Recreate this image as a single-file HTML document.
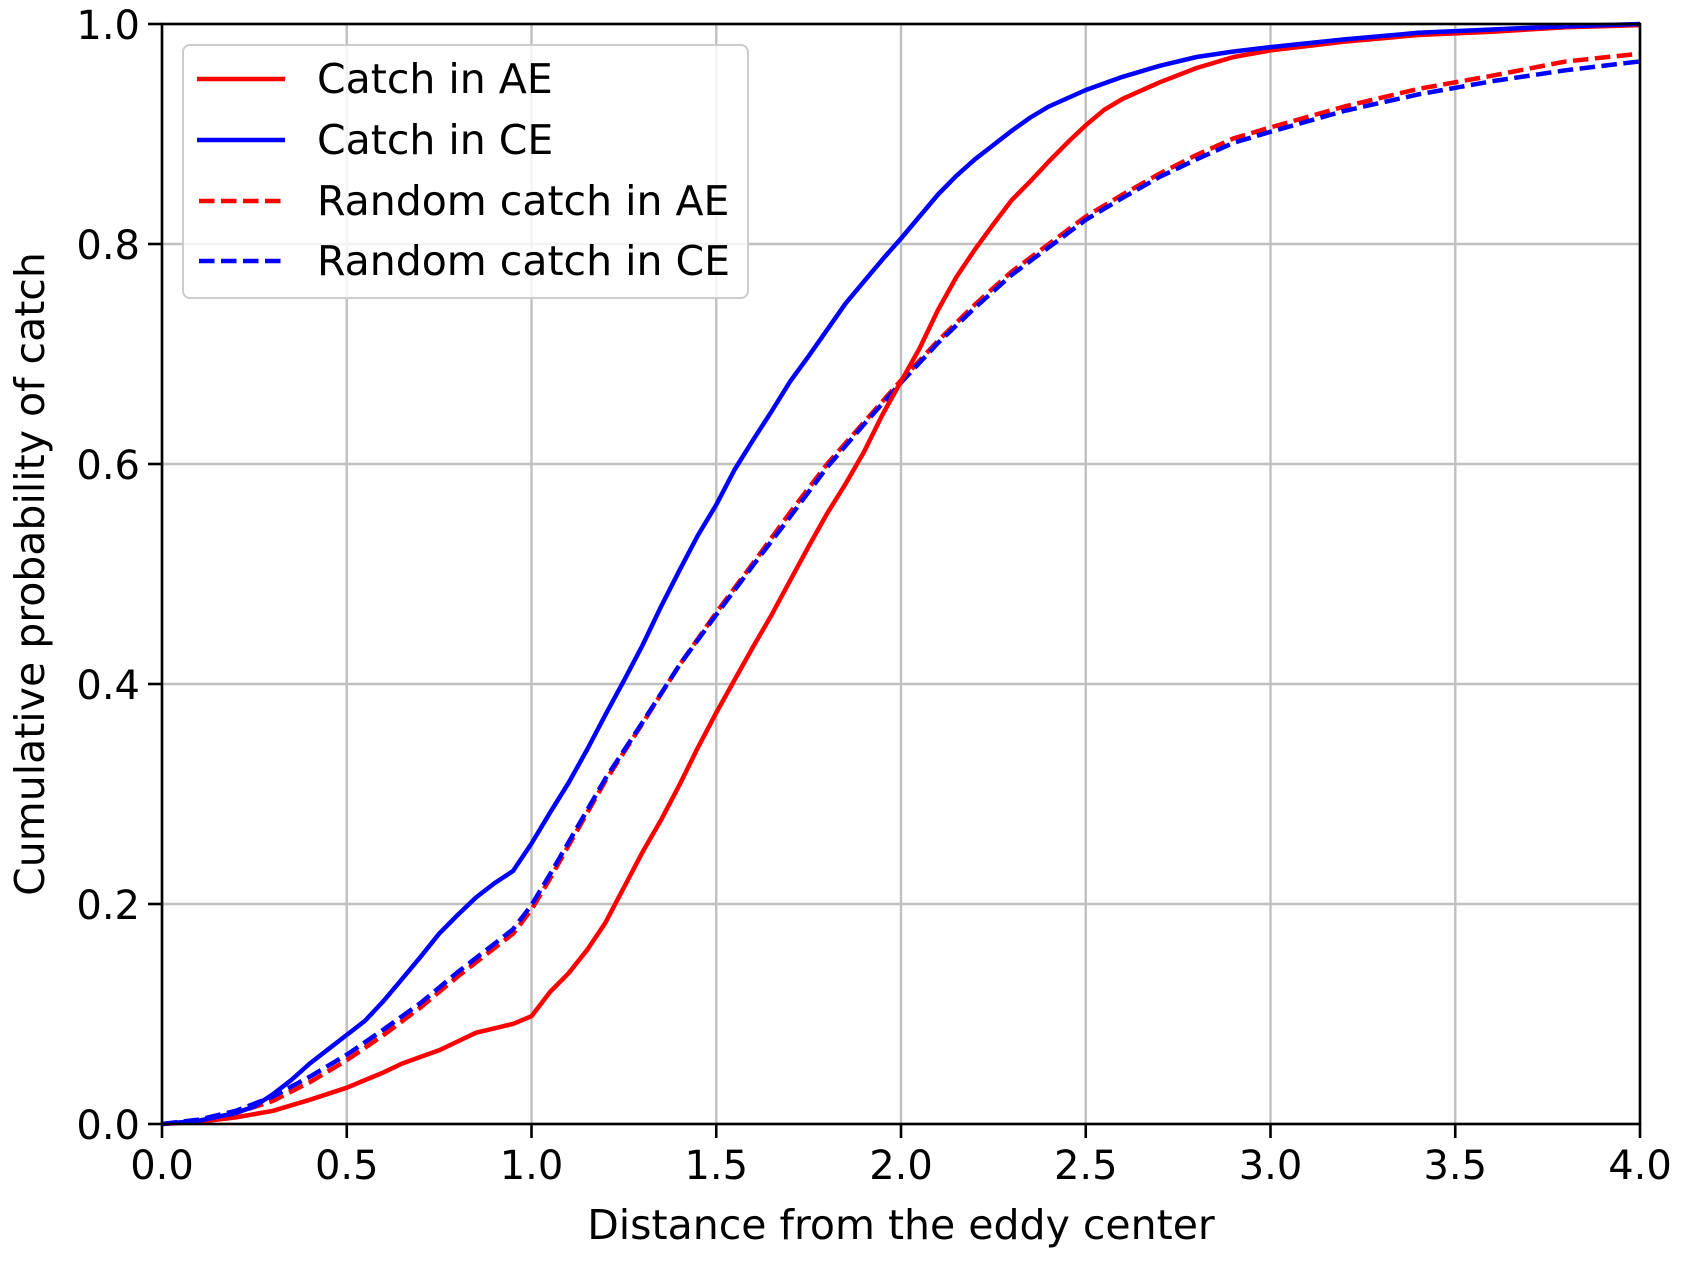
<!DOCTYPE html>
<html><head><meta charset="utf-8"><style>
html,body{margin:0;padding:0;background:#fff;}
svg{display:block;font-family:"DejaVu Sans","Liberation Sans",sans-serif;}
</style></head><body>
<svg id="chart" width="1683" height="1261" viewBox="0 0 1683 1261">
<g id="grid"></g>
<g id="series"></g>
<rect x="162" y="24" width="1478" height="1100" fill="none" stroke="#000" stroke-width="2.6"/>
<g id="ticks"></g>
<text x="901" y="1239" font-size="41" text-anchor="middle">Distance from the eddy center</text>
<text transform="translate(44,574) rotate(-90)" font-size="41" text-anchor="middle">Cumulative probability of catch</text>
<g>
<rect x="183" y="45" width="565" height="253" rx="7" fill="#fff" fill-opacity="0.8" stroke="#ccc" stroke-width="2"/>
<g><line x1="197" y1="79" x2="285" y2="79" stroke="#f00" stroke-width="4.5"/><text x="317" y="93" font-size="41">Catch in AE</text></g>
<g><line x1="197" y1="140" x2="285" y2="140" stroke="#00f" stroke-width="4.5"/><text x="317" y="154" font-size="41">Catch in CE</text></g>
<g><line x1="199" y1="201" x2="285" y2="201" stroke="#f00" stroke-width="4.5" stroke-dasharray="15.5,6.5"/><text x="317" y="215" font-size="41">Random catch in AE</text></g>
<g><line x1="199" y1="261" x2="285" y2="261" stroke="#00f" stroke-width="4.5" stroke-dasharray="15.5,6.5"/><text x="317" y="275" font-size="41">Random catch in CE</text></g>
</g>
</svg>
<script>
const xTicks=[0,0.5,1,1.5,2,2.5,3,3.5,4];
const xTickLabels=["0.0","0.5","1.0","1.5","2.0","2.5","3.0","3.5","4.0"];
const yTicks=[0,0.2,0.4,0.6,0.8,1.0];
const yTickLabels=["0.0","0.2","0.4","0.6","0.8","1.0"];
const aeX=[0,0.1,0.2,0.3,0.4,0.5,0.55,0.6,0.65,0.7,0.75,0.8,0.85,0.9,0.95,1.0,1.05,1.1,1.15,1.2,1.25,1.3,1.35,1.4,1.45,1.5,1.55,1.6,1.65,1.7,1.75,1.8,1.85,1.9,1.95,2.0,2.05,2.1,2.15,2.2,2.25,2.3,2.35,2.4,2.45,2.5,2.55,2.6,2.7,2.8,2.9,3.0,3.2,3.4,3.6,3.8,4.0];
const aeY=[0,0.002,0.006,0.012,0.022,0.033,0.04,0.047,0.055,0.061,0.067,0.075,0.083,0.087,0.091,0.098,0.12,0.137,0.158,0.183,0.215,0.247,0.276,0.308,0.342,0.374,0.404,0.434,0.463,0.494,0.525,0.555,0.582,0.611,0.645,0.675,0.705,0.74,0.77,0.795,0.818,0.84,0.857,0.875,0.892,0.908,0.922,0.932,0.947,0.96,0.97,0.976,0.984,0.99,0.993,0.997,0.999];
const ceX=[0,0.1,0.2,0.25,0.3,0.35,0.4,0.45,0.5,0.55,0.6,0.65,0.7,0.75,0.8,0.85,0.9,0.95,1.0,1.05,1.1,1.15,1.2,1.25,1.3,1.35,1.4,1.45,1.5,1.55,1.6,1.65,1.7,1.75,1.8,1.85,1.9,1.95,2.0,2.05,2.1,2.15,2.2,2.25,2.3,2.35,2.4,2.5,2.6,2.7,2.8,2.9,3.0,3.2,3.4,3.6,3.8,4.0];
const ceY=[0,0.003,0.01,0.016,0.027,0.04,0.055,0.068,0.081,0.094,0.112,0.132,0.152,0.173,0.19,0.206,0.219,0.23,0.255,0.283,0.31,0.34,0.372,0.403,0.435,0.47,0.503,0.535,0.563,0.595,0.622,0.648,0.675,0.698,0.722,0.746,0.766,0.786,0.805,0.825,0.845,0.862,0.877,0.89,0.903,0.915,0.925,0.94,0.952,0.962,0.97,0.975,0.979,0.986,0.992,0.995,0.998,1.0];
const rX=[0,0.1,0.2,0.3,0.4,0.5,0.6,0.7,0.8,0.9,0.95,1.0,1.05,1.1,1.2,1.3,1.4,1.5,1.6,1.7,1.8,1.9,2.0,2.1,2.2,2.3,2.4,2.5,2.6,2.7,2.8,2.9,3.0,3.2,3.4,3.6,3.8,4.0];
const rAeY=[0,0.003,0.01,0.021,0.038,0.058,0.081,0.106,0.134,0.16,0.173,0.195,0.223,0.253,0.312,0.364,0.417,0.465,0.51,0.556,0.6,0.638,0.676,0.712,0.745,0.775,0.8,0.825,0.845,0.864,0.881,0.896,0.906,0.925,0.941,0.953,0.966,0.973];
const rCeY=[0,0.004,0.012,0.025,0.043,0.063,0.086,0.11,0.138,0.164,0.177,0.199,0.227,0.256,0.314,0.365,0.417,0.463,0.508,0.552,0.597,0.636,0.674,0.71,0.742,0.772,0.797,0.822,0.842,0.861,0.877,0.892,0.902,0.921,0.936,0.948,0.958,0.966];
const NS="http://www.w3.org/2000/svg";
const L=162,R=1640,T=24,B=1124;
function sx(v){return L+(R-L)*v/4;}
function sy(v){return B-(B-T)*v;}
const grid=document.getElementById('grid'),ticks=document.getElementById('ticks'),series=document.getElementById('series');
function mk(tag,at,parent){const e=document.createElementNS(NS,tag);for(const k in at)e.setAttribute(k,at[k]);parent.appendChild(e);return e;}
xTicks.forEach((t,i)=>{
 const g=mk('line',{x1:sx(t),x2:sx(t),y1:T,y2:B,stroke:'#c0c0c0','stroke-width':2.4},grid);
 
 
 const k=mk('line',{x1:sx(t),x2:sx(t),y1:B,y2:B+14,stroke:'#000','stroke-width':2.6},ticks);
 
 
 const tx=mk('text',{x:sx(t),y:B+55,'font-size':40,'text-anchor':'middle'},ticks);
 tx.textContent=xTickLabels[i];
 
 
});
yTicks.forEach((t,i)=>{
 const g=mk('line',{x1:L,x2:R,y1:sy(t),y2:sy(t),stroke:'#c0c0c0','stroke-width':2.4},grid);
 
 
 const k=mk('line',{x1:L-14,x2:L,y1:sy(t),y2:sy(t),stroke:'#000','stroke-width':2.6},ticks);
 
 
 const tx=mk('text',{x:L-22,y:sy(t)+15,'font-size':40,'text-anchor':'end'},ticks);
 tx.textContent=yTickLabels[i];
 
 
});
function line(xs,ys,color,dash,name){
 const d=xs.map((x,i)=>(i?'L':'M')+sx(x).toFixed(1)+','+sy(ys[i]).toFixed(1)).join(' ');
 const p=mk('path',{d:d,fill:'none',stroke:color,'stroke-width':4.5,'stroke-linejoin':'round'},series);
 if(dash)p.setAttribute('stroke-dasharray','15.5,6.5');
 
 
}
line(rX,rAeY,'#f00',true,'random-catch-ae-line');
line(rX,rCeY,'#00f',true,'random-catch-ce-line');
line(aeX,aeY,'#f00',false,'catch-ae-line');
line(ceX,ceY,'#00f',false,'catch-ce-line');
</script>
</body></html>
